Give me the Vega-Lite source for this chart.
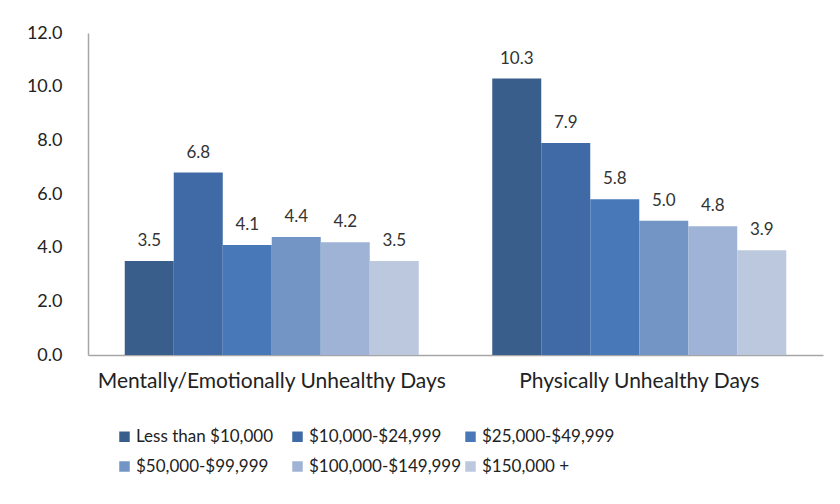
{
  "$schema": "https://vega.github.io/schema/vega-lite/v6.json",
  "autosize": {"type": "none"},
  "padding": {"left": 88, "top": 33, "right": 17, "bottom": 149},
  "width": 735,
  "height": 322,
  "background": "white",
  "config": {
    "font": "Lato",
    "view": {"stroke": null}
  },
  "data": {
    "values": [
      {"measure": "Mentally/Emotionally Unhealthy Days", "income": "Less than $10,000", "days": 3.5},
      {"measure": "Mentally/Emotionally Unhealthy Days", "income": "$10,000-$24,999", "days": 6.8},
      {"measure": "Mentally/Emotionally Unhealthy Days", "income": "$25,000-$49,999", "days": 4.1},
      {"measure": "Mentally/Emotionally Unhealthy Days", "income": "$50,000-$99,999", "days": 4.4},
      {"measure": "Mentally/Emotionally Unhealthy Days", "income": "$100,000-$149,999", "days": 4.2},
      {"measure": "Mentally/Emotionally Unhealthy Days", "income": "$150,000 +", "days": 3.5},
      {"measure": "Physically Unhealthy Days", "income": "Less than $10,000", "days": 10.3},
      {"measure": "Physically Unhealthy Days", "income": "$10,000-$24,999", "days": 7.9},
      {"measure": "Physically Unhealthy Days", "income": "$25,000-$49,999", "days": 5.8},
      {"measure": "Physically Unhealthy Days", "income": "$50,000-$99,999", "days": 5.0},
      {"measure": "Physically Unhealthy Days", "income": "$100,000-$149,999", "days": 4.8},
      {"measure": "Physically Unhealthy Days", "income": "$150,000 +", "days": 3.9}
    ]
  },
  "encoding": {
    "x": {
      "field": "measure",
      "type": "nominal",
      "sort": null,
      "title": null,
      "scale": {"paddingInner": 0.2, "paddingOuter": 0.1},
      "axis": {
        "labelAngle": 0,
        "labelFontSize": 21,
        "labelLimit": 500,
        "labelColor": "#222222",
        "labelPadding": 15,
        "ticks": false,
        "domainColor": "#A6A6A6",
        "domainWidth": 1.5
      }
    },
    "xOffset": {
      "field": "income",
      "type": "nominal",
      "sort": ["Less than $10,000", "$10,000-$24,999", "$25,000-$49,999", "$50,000-$99,999", "$100,000-$149,999", "$150,000 +"],
      "scale": {"paddingInner": 0, "paddingOuter": 0}
    },
    "y": {
      "field": "days",
      "type": "quantitative",
      "title": null,
      "scale": {"domain": [0, 12]},
      "axis": {
        "values": [0, 2, 4, 6, 8, 10, 12],
        "format": ".1f",
        "grid": false,
        "ticks": false,
        "labelFontSize": 18,
        "labelColor": "#222222",
        "labelPadding": 26,
        "domainColor": "#A6A6A6",
        "domainWidth": 1.5
      }
    }
  },
  "layer": [
    {
      "mark": {"type": "bar"},
      "encoding": {
        "color": {
          "field": "income",
          "type": "nominal",
          "sort": ["Less than $10,000", "$10,000-$24,999", "$25,000-$49,999", "$50,000-$99,999", "$100,000-$149,999", "$150,000 +"],
          "scale": {
            "domain": ["Less than $10,000", "$10,000-$24,999", "$25,000-$49,999", "$50,000-$99,999", "$100,000-$149,999", "$150,000 +"],
            "range": ["#3A5E8C", "#3F6AA5", "#4878B8", "#7295C6", "#9FB3D6", "#BCC8DD"]
          },
          "legend": {
            "title": null,
            "orient": "none",
            "legendX": 28,
            "legendY": 395,
            "direction": "horizontal",
            "columns": 3,
            "gridAlign": "all",
            "columnPadding": 0,
            "rowPadding": 12,
            "symbolType": "square",
            "symbolSize": 110,
            "symbolStrokeWidth": 0,
            "labelFontSize": 17,
            "labelColor": "#222222",
            "labelOffset": 3
          }
        }
      }
    },
    {
      "mark": {"type": "text", "baseline": "bottom", "dy": -11, "fontSize": 17, "color": "#333333"},
      "encoding": {
        "text": {"field": "days", "type": "quantitative", "format": ".1f"}
      }
    }
  ]
}
